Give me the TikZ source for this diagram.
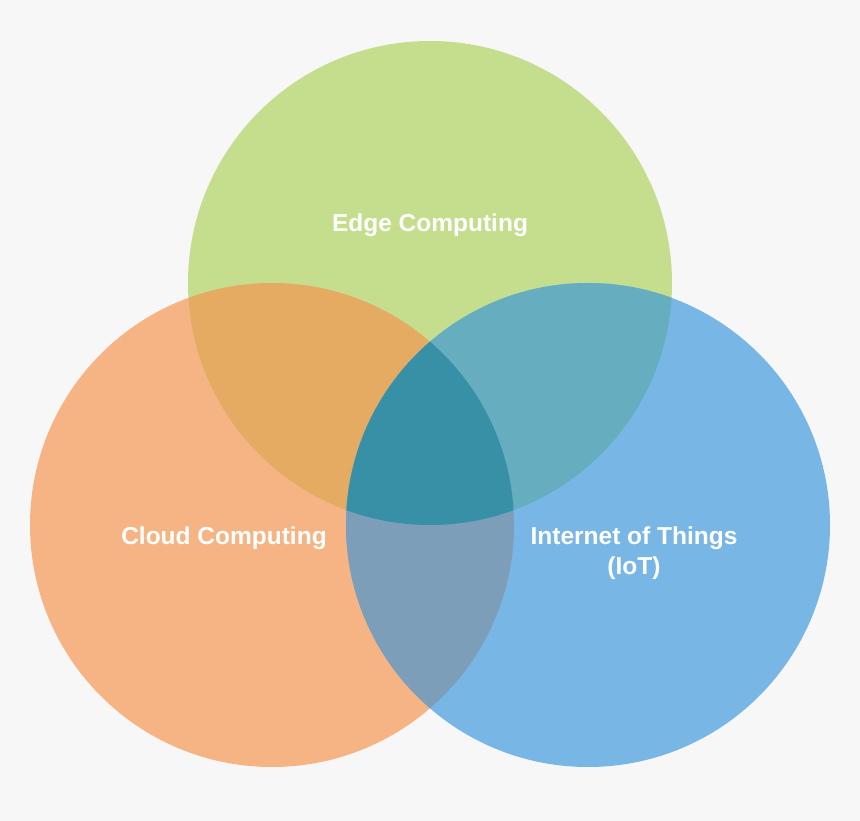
\documentclass[tikz,border=0pt]{standalone}
\usepackage{fontspec}
\setmainfont{Liberation Sans}
\definecolor{bg}{HTML}{F7F7F7}
\definecolor{cgreen}{HTML}{C5DE8E}
\definecolor{corange}{HTML}{F6B383}
\definecolor{cblue}{HTML}{78B6E6}
\definecolor{cgo}{HTML}{E6AB62}
\definecolor{cgb}{HTML}{66AEBF}
\definecolor{cob}{HTML}{7C9EB8}
\definecolor{call}{HTML}{3890A6}
\tikzset{
  lbl/.style={text=white, font=\bfseries\fontsize{24.5}{30}\selectfont, align=center, inner sep=0pt}
}
\begin{document}
\begin{tikzpicture}[x=1pt,y=-1pt]
\fill[bg] (0,0) rectangle (860,821);
\useasboundingbox (0,0) rectangle (860,821);
\coordinate (G) at (430,283);
\coordinate (O) at (272,525);
\coordinate (B) at (588,525);
\def\R{242}
\fill[corange] (O) circle[radius=\R];
\fill[cgreen] (G) circle[radius=\R];
\fill[cblue] (B) circle[radius=\R];
\begin{scope}
  \clip (G) circle[radius=\R];
  \fill[cgo] (O) circle[radius=\R];
\end{scope}
\begin{scope}
  \clip (G) circle[radius=\R];
  \fill[cgb] (B) circle[radius=\R];
\end{scope}
\begin{scope}
  \clip (O) circle[radius=\R];
  \fill[cob] (B) circle[radius=\R];
\end{scope}
\begin{scope}
  \clip (O) circle[radius=\R];
  \clip (B) circle[radius=\R];
  \fill[call] (G) circle[radius=\R];
\end{scope}
\node[lbl] (edge) at (430,225) {Edge Computing};
\node[lbl] (cloud) at (224,538) {Cloud Computing};
\node[lbl] (iot) at (634,553) {Internet of Things\\(IoT)};
\end{tikzpicture}
\end{document}
